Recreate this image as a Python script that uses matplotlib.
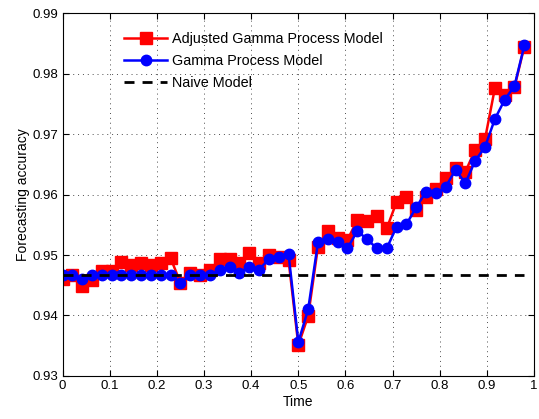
import numpy as np
import matplotlib
matplotlib.use('Agg')
from matplotlib import pyplot as plt

plt.rcParams['font.family'] = ['Liberation Sans', 'DejaVu Sans']

# time grid: 48 evenly spaced forecast instants
time = np.arange(48) / 48.0

adjusted_gamma = [0.9460, 0.9467, 0.9448, 0.9459, 0.9474, 0.9474, 0.9489, 0.9484,
                  0.9486, 0.9484, 0.9486, 0.9495, 0.9454, 0.9470, 0.9467, 0.9475,
                  0.9493, 0.9493, 0.9486, 0.9503, 0.9486, 0.9500, 0.9497, 0.9492,
                  0.9351, 0.9399, 0.9514, 0.9539, 0.9529, 0.9525, 0.9558, 0.9557,
                  0.9564, 0.9544, 0.9588, 0.9596, 0.9575, 0.9596, 0.9610, 0.9627,
                  0.9644, 0.9638, 0.9674, 0.9692, 0.9776, 0.9765, 0.9778, 0.9845]

gamma = [0.9467, 0.9467, 0.9460, 0.9467, 0.9467, 0.9467, 0.9467, 0.9467,
         0.9467, 0.9467, 0.9467, 0.9467, 0.9454, 0.9467, 0.9467, 0.9467,
         0.9475, 0.9481, 0.9470, 0.9481, 0.9476, 0.9493, 0.9497, 0.9502,
         0.9356, 0.9410, 0.9521, 0.9527, 0.9522, 0.9511, 0.9540, 0.9526,
         0.9511, 0.9511, 0.9547, 0.9551, 0.9579, 0.9605, 0.9602, 0.9613,
         0.9641, 0.9619, 0.9656, 0.9679, 0.9725, 0.9757, 0.9780, 0.9847]

naive = 0.9467

fig = plt.figure(figsize=(5.39, 4.19), dpi=100)
ax = fig.add_axes([0.116, 0.103, 0.875, 0.865])

ax.plot(time, adjusted_gamma, 'rs-', lw=1.8, ms=8, label='Adjusted Gamma Process Model')
ax.plot(time, gamma, 'bo-', lw=1.8, ms=7.5, label='Gamma Process Model')
ax.plot([time[0], time[-1]], [naive, naive], 'k--', lw=2, dashes=(3.6, 2.9),
        label='Naive Model')

ax.set_xlim(0, 1)
ax.set_ylim(0.93, 0.99)
ax.set_xticks(np.arange(0, 1.01, 0.1))
ax.set_xticklabels(['0', '0.1', '0.2', '0.3', '0.4', '0.5', '0.6', '0.7', '0.8', '0.9', '1'])
ax.set_yticks(np.arange(0.93, 0.991, 0.01))
ax.set_yticklabels(['0.93', '0.94', '0.95', '0.96', '0.97', '0.98', '0.99'])
ax.tick_params(direction='in', top=True, right=True, labelsize=9.5, length=4, pad=3)
ax.grid(True, linestyle=(0, (1, 4)), color='0.3', lw=0.7)
for s in ax.spines.values():
    s.set_linewidth(0.8)

ax.set_xlabel('Time', fontsize=10, labelpad=2)
ax.set_ylabel('Forecasting accuracy', fontsize=10, labelpad=2)

ax.legend(loc='upper left', bbox_to_anchor=(0.13, 0.948), frameon=False,
          fontsize=10.4, handlelength=3.0, handletextpad=0.35, labelspacing=0.55,
          borderpad=0, borderaxespad=0)

fig.savefig('out.png', dpi=100)
